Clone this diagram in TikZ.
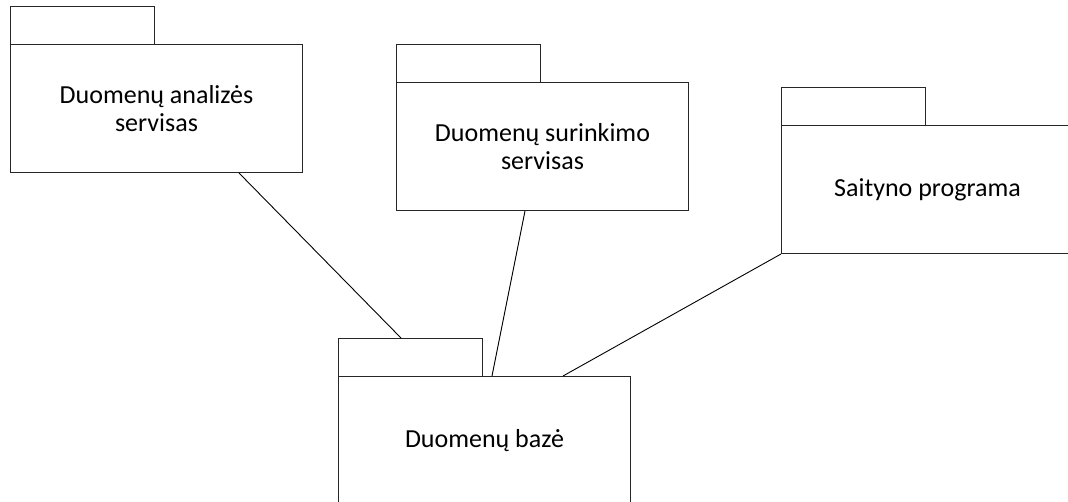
\documentclass[tikz,border=0pt]{standalone}
\usepackage{fontspec}
\setmainfont{Carlito}
\usetikzlibrary{calc}
\begin{document}
\begin{tikzpicture}[x=1pt,y=-1pt,
  pkgtab/.style={draw=black!85,line width=1pt,anchor=north west,inner sep=0pt,
    minimum width=144pt,minimum height=38pt},
  pkgbody/.style={draw=black!85,line width=1pt,anchor=north west,inner sep=0pt,
    minimum width=292pt,minimum height=128pt,align=center,
    font=\fontsize{26}{28}\selectfont},
  link/.style={draw=black,line width=0.9pt}]
\useasboundingbox (0,0) rectangle (1068,501);
\clip (0,0) rectangle (1068,501);

% packages: tab on top, body below
\node[pkgtab]  (t1) at (10,6) {};
\node[pkgbody] (b1) at (10,44) {Duomenų analizės\\servisas};

\node[pkgtab]  (t2) at (396,44) {};
\node[pkgbody] (b2) at (396,82) {Duomenų surinkimo\\servisas};

\node[pkgtab]  (t3) at (781,87) {};
\node[pkgbody] (b3) at (781,125) {Saityno programa};

\node[pkgtab]  (t4) at (338,338) {};
\node[pkgbody] (b4) at (338,376) {Duomenų bazė};

% dependencies towards the database package
\draw[link] ([xshift=229pt]b1.south west) -- ([xshift=63pt]t4.north west);
\draw[link] ([xshift=129pt]b2.south west) -- ([xshift=154pt]b4.north west);
\draw[link] (b3.south west) -- ([xshift=225pt]b4.north west);
\end{tikzpicture}
\end{document}
